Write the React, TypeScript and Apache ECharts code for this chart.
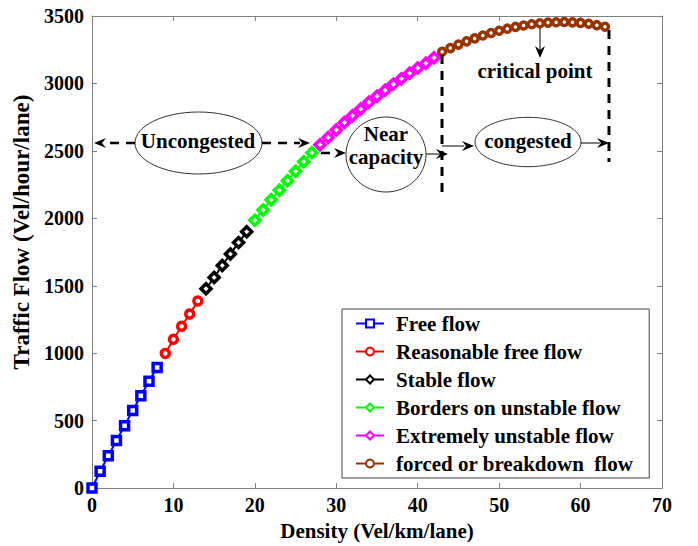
import React, { useEffect, useRef } from "react";
import * as echarts from "echarts";

const xTicks = { min: 0, max: 70, interval: 10 };
const yTicks = { min: 0, max: 3500, interval: 500 };

const freeK = [0, 1, 2, 3, 4, 5, 6, 7, 8];
const freeQ = [0, 125, 240, 352, 463, 575, 685, 792, 895];
const reasonK = [9, 10, 11, 12, 13];
const reasonQ = [998, 1103, 1200, 1290, 1387];
const stableK = [14, 15, 16, 17, 18, 19];
const stableQ = [1478, 1562, 1650, 1736, 1820, 1900];
const bordersK = [20, 21, 22, 23, 24, 25, 26, 27];
const bordersQ = [1985, 2062, 2137, 2208, 2279, 2349, 2419, 2487];
const extremeK = [28, 29, 30, 31, 32, 33, 34, 35, 36, 37, 38, 39, 40, 41, 42];
const extremeQ = [2545, 2600, 2655, 2710, 2760, 2810, 2860, 2905, 2950, 2995, 3035, 3075, 3115, 3150, 3190];
const forcedK = [43, 44, 45, 46, 47, 48, 49, 50, 51, 52, 53, 54, 55, 56, 57, 58, 59, 60, 61, 62, 63];
const forcedQ = [3235, 3262, 3288, 3312, 3334, 3355, 3374, 3391, 3406, 3419, 3430, 3439, 3446, 3451, 3454, 3455, 3453, 3449, 3442, 3432, 3420];

const seriesNames = [
  "Free flow",
  "Reasonable free flow",
  "Stable flow",
  "Borders on unstable flow",
  "Extremely unstable flow",
  "forced or breakdown  flow",
];
const seriesColors = ["#0000ff", "#ff0000", "#000000", "#00ff00", "#ff00ff", "#993300"];
const seriesSymbols = ["rect", "circle", "diamond", "diamond", "diamond", "circle"];
const seriesSizes = [8, 8, 10, 10, 10, 7];

const seriesK = [freeK, reasonK, stableK, bordersK, extremeK, forcedK];
const seriesQ = [freeQ, reasonQ, stableQ, bordersQ, extremeQ, forcedQ];

const FONT = "Liberation Serif";

function arrowHead(tipX: number, tipY: number, dir: "left" | "right" | "down") {
  const L = 12, W = 5, N = 8;
  let pts: number[][];
  if (dir === "right") pts = [[tipX, tipY], [tipX - L, tipY - W], [tipX - N, tipY], [tipX - L, tipY + W]];
  else if (dir === "left") pts = [[tipX, tipY], [tipX + L, tipY - W], [tipX + N, tipY], [tipX + L, tipY + W]];
  else pts = [[tipX, tipY], [tipX - W, tipY - L], [tipX, tipY - N], [tipX + W, tipY - L]];
  return { type: "polygon", shape: { points: pts }, style: { fill: "#000" }, z: 100 };
}

function seg(x1: number, y1: number, x2: number, y2: number, dashed: boolean, width = 1) {
  return {
    type: "line",
    shape: { x1, y1, x2, y2 },
    style: { stroke: "#000", lineWidth: width, lineDash: dashed ? [9, 7] : null },
    z: 100,
  };
}

function label(text: string, x: number, y: number) {
  return {
    type: "text",
    x,
    y,
    style: {
      text,
      fill: "#000",
      fontSize: 21,
      fontWeight: "bold",
      fontFamily: FONT,
      align: "center",
      verticalAlign: "middle",
    },
    z: 101,
  };
}

function ellipse(cx: number, cy: number, rx: number, ry: number) {
  return {
    type: "ellipse",
    shape: { cx, cy, rx, ry },
    style: { fill: "rgba(255,255,255,0)", stroke: "#333", lineWidth: 1 },
    z: 100,
  };
}

export default function App() {
  const ref = useRef<HTMLDivElement>(null);
  useEffect(() => {
    if (!ref.current) return;
    const chart = echarts.init(ref.current, undefined, { renderer: "svg" });
    const axisGray = "#808080";
    const tickLabel = { color: "#000", fontSize: 20, fontWeight: "bold", fontFamily: FONT };
    const series = seriesNames.map((name, i) => ({
      name,
      type: "line",
      data: seriesK[i].map((k, j) => [k, seriesQ[i][j]]),
      symbol: seriesSymbols[i],
      symbolSize: seriesSizes[i],
      showAllSymbol: true,
      lineStyle: { color: seriesColors[i], width: 2 },
      itemStyle: { color: "#ffffff", borderColor: seriesColors[i], borderWidth: 3.5 },
      emphasis: { disabled: true },
      z: 10,
    }));

    const graphic = [
      // Uncongested
      ellipse(198.5, 143, 63.5, 31),
      label("Uncongested", 198, 141),
      seg(135, 143, 104, 143, true, 2.5),
      arrowHead(94, 143, "left"),
      seg(262, 143, 300, 143, true, 2.5),
      arrowHead(310, 143, "right"),
      // Near capacity
      seg(321, 153, 337, 153, true, 2.5),
      arrowHead(346, 153, "right"),
      ellipse(386, 154.5, 40, 37.5),
      label("Near", 386, 134),
      label("capacity", 386, 157),
      seg(426, 154, 440, 154, false, 1),
      arrowHead(448, 154, "right"),
      // vertical dashed lines
      seg(442, 55, 442, 192, true, 3),
      seg(609, 30, 609, 162, true, 3),
      // congested
      seg(442, 146, 464, 146, false, 1),
      arrowHead(474, 146, "right"),
      ellipse(528, 142, 53, 24.7),
      label("congested", 528, 141),
      seg(581, 143, 600, 143, false, 1),
      arrowHead(609, 143, "right"),
      // critical point
      seg(540, 28, 540, 50, false, 1),
      arrowHead(540, 58, "down"),
      label("critical point", 535, 71),
    ];

    chart.setOption({
      animation: false,
      backgroundColor: "#ffffff",
      grid: { left: 92, top: 16, width: 570, height: 477, containLabel: false },
      legend: {
        orient: "vertical",
        left: 342,
        top: 309,
        padding: [4, 16, 4, 13],
        itemGap: 7,
        itemWidth: 28,
        itemHeight: 10,
        borderColor: "#444",
        borderWidth: 1,
        backgroundColor: "#ffffff",
        textStyle: {
          color: "#000",
          fontSize: 21,
          fontWeight: "bold",
          fontFamily: FONT,
          lineHeight: 21,
          padding: [0, 0, 0, 7],
        },
        data: seriesNames,
        z: 20,
      },
      xAxis: [
        {
          type: "value",
          ...xTicks,
          position: "bottom",
          name: "Density (Vel/km/lane)",
          nameLocation: "middle",
          nameGap: 31,
          nameTextStyle: { color: "#000", fontSize: 21, fontWeight: "bold", fontFamily: FONT },
          axisLine: { show: true, onZero: false, lineStyle: { color: axisGray, width: 1 } },
          axisTick: { show: true, inside: true, length: 5, lineStyle: { color: axisGray } },
          axisLabel: { ...tickLabel, margin: 7, formatter: (v: number) => String(v) },
          splitLine: { show: false },
        },
        {
          type: "value",
          ...xTicks,
          position: "top",
          axisLine: { show: true, onZero: false, lineStyle: { color: axisGray, width: 1 } },
          axisTick: { show: true, inside: true, length: 5, lineStyle: { color: axisGray } },
          axisLabel: { show: false },
          splitLine: { show: false },
        },
      ],
      yAxis: [
        {
          type: "value",
          ...yTicks,
          position: "left",
          name: "Traffic Flow (Vel/hour/lane)",
          nameLocation: "middle",
          nameGap: 57,
          nameTextStyle: {
            color: "#000",
            fontSize: 23,
            fontWeight: "bold",
            fontFamily: FONT,
            padding: [0, 0, 0, 40],
          },
          axisLine: { show: true, onZero: false, lineStyle: { color: axisGray, width: 1 } },
          axisTick: { show: true, inside: true, length: 5, lineStyle: { color: axisGray } },
          axisLabel: { ...tickLabel, margin: 8, formatter: (v: number) => String(v) },
          splitLine: { show: false },
        },
        {
          type: "value",
          ...yTicks,
          position: "right",
          axisLine: { show: true, onZero: false, lineStyle: { color: axisGray, width: 1 } },
          axisTick: { show: true, inside: true, length: 5, lineStyle: { color: axisGray } },
          axisLabel: { show: false },
          splitLine: { show: false },
        },
      ],
      series,
      graphic,
    });
    return () => chart.dispose();
  }, []);
  return <div ref={ref} style={{ width: 698, height: 546, position: "absolute", left: 0, top: 0 }} />;
}
